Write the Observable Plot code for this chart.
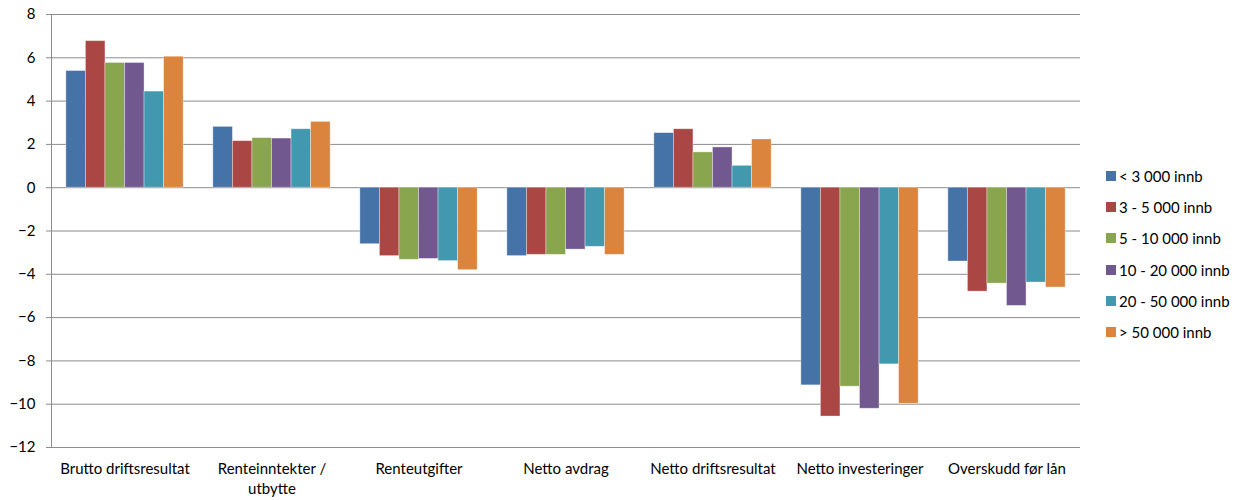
<!DOCTYPE html>
<html>
<head>
<meta charset="utf-8">
<script src="https://cdn.jsdelivr.net/npm/d3@7"></script>
<script src="https://cdn.jsdelivr.net/npm/@observablehq/plot@0.6"></script>
<style>
  body { margin: 0; background: #fff; font-family: Lato, "Open Sans", sans-serif; }
  #wrap { position: relative; width: 1241px; height: 500px; }
  #legend { position: absolute; left: 1106px; top: 160px; font-size: 15px; color: #000; }
  .item { display: flex; align-items: center; height: 31.3px; }
  .sw { width: 10px; height: 10px; margin-right: 3px; }
</style>
</head>
<body>
<div id="wrap"><div id="chart"></div><div id="legend"></div></div>
<script>
const categories = ["Brutto driftsresultat", "Renteinntekter / utbytte", "Renteutgifter", "Netto avdrag", "Netto driftsresultat", "Netto investeringer", "Overskudd før lån"];
const categoryLabels = ["Brutto driftsresultat", "Renteinntekter /\nutbytte", "Renteutgifter", "Netto avdrag", "Netto driftsresultat", "Netto investeringer", "Overskudd før lån"];
const series = ["< 3 000 innb", "3 - 5 000 innb", "5 - 10 000 innb", "10 - 20 000 innb", "20 - 50 000 innb", "> 50 000 innb"];
const colors = ["#4572A7", "#AA4643", "#89A54E", "#71588F", "#4198AF", "#DB843D"];
const yTicks = [-12, -10, -8, -6, -4, -2, 0, 2, 4, 6, 8];

const under3000 = [5.39, 2.81, -2.61, -3.16, 2.52, -9.13, -3.41];
const from3to5000 = [6.77, 2.15, -3.16, -3.10, 2.70, -10.57, -4.80];
const from5to10000 = [5.76, 2.29, -3.33, -3.10, 1.63, -9.19, -4.43];
const from10to20000 = [5.76, 2.27, -3.29, -2.86, 1.86, -10.21, -5.46];
const from20to50000 = [4.44, 2.70, -3.39, -2.73, 1.01, -8.16, -4.38];
const over50000 = [6.05, 3.04, -3.81, -3.10, 2.23, -9.98, -4.61];

const seriesValues = [under3000, from3to5000, from5to10000, from10to20000, from20to50000, over50000];
const data = [];
seriesValues.forEach((vals, si) => vals.forEach((v, ci) => data.push({cat: categories[ci], series: series[si], value: v})));

const chart = Plot.plot({
  width: 1090,
  height: 500,
  marginLeft: 51,
  marginRight: 10,
  marginTop: 14,
  marginBottom: 53,
  style: {fontFamily: "Lato, 'Open Sans', sans-serif", fontSize: "15px", color: "#000", background: "#fff"},
  fx: {domain: categories, padding: 0, round: false, label: null},
  x: {domain: series, paddingInner: 0, paddingOuter: 0.76, round: false, axis: null},
  y: {domain: [-12, 8], ticks: yTicks, label: null},
  color: {domain: series, range: colors},
  marks: [
    Plot.gridY(yTicks, {stroke: "#8c8c8c", strokeOpacity: 1, strokeWidth: 1}),
    Plot.barY(data, {fx: "cat", x: "series", y: "value", fill: "series", stroke: "#ffffff", strokeOpacity: 0.45, strokeWidth: 0.8}),
    Plot.axisY(yTicks, {anchor: "left", tickSize: 5, tickPadding: 11, stroke: "#8c8c8c", label: null, fill: "#000"}),
    Plot.frame({anchor: "left", facetAnchor: "left", stroke: "#8c8c8c"}),
    Plot.axisFx({anchor: "bottom", tickSize: 0, tickPadding: 13, label: null, lineHeight: 1.3,
      tickFormat: d => categoryLabels[categories.indexOf(d)]})
  ]
});
document.getElementById("chart").appendChild(chart);

const legend = document.getElementById("legend");
series.forEach((s, i) => {
  const item = document.createElement("div");
  item.className = "item";
  const sw = document.createElement("div");
  sw.className = "sw";
  sw.style.background = colors[i];
  const t = document.createElement("span");
  t.textContent = s;
  item.appendChild(sw);
  item.appendChild(t);
  legend.appendChild(item);
});
</script>
</body>
</html>
